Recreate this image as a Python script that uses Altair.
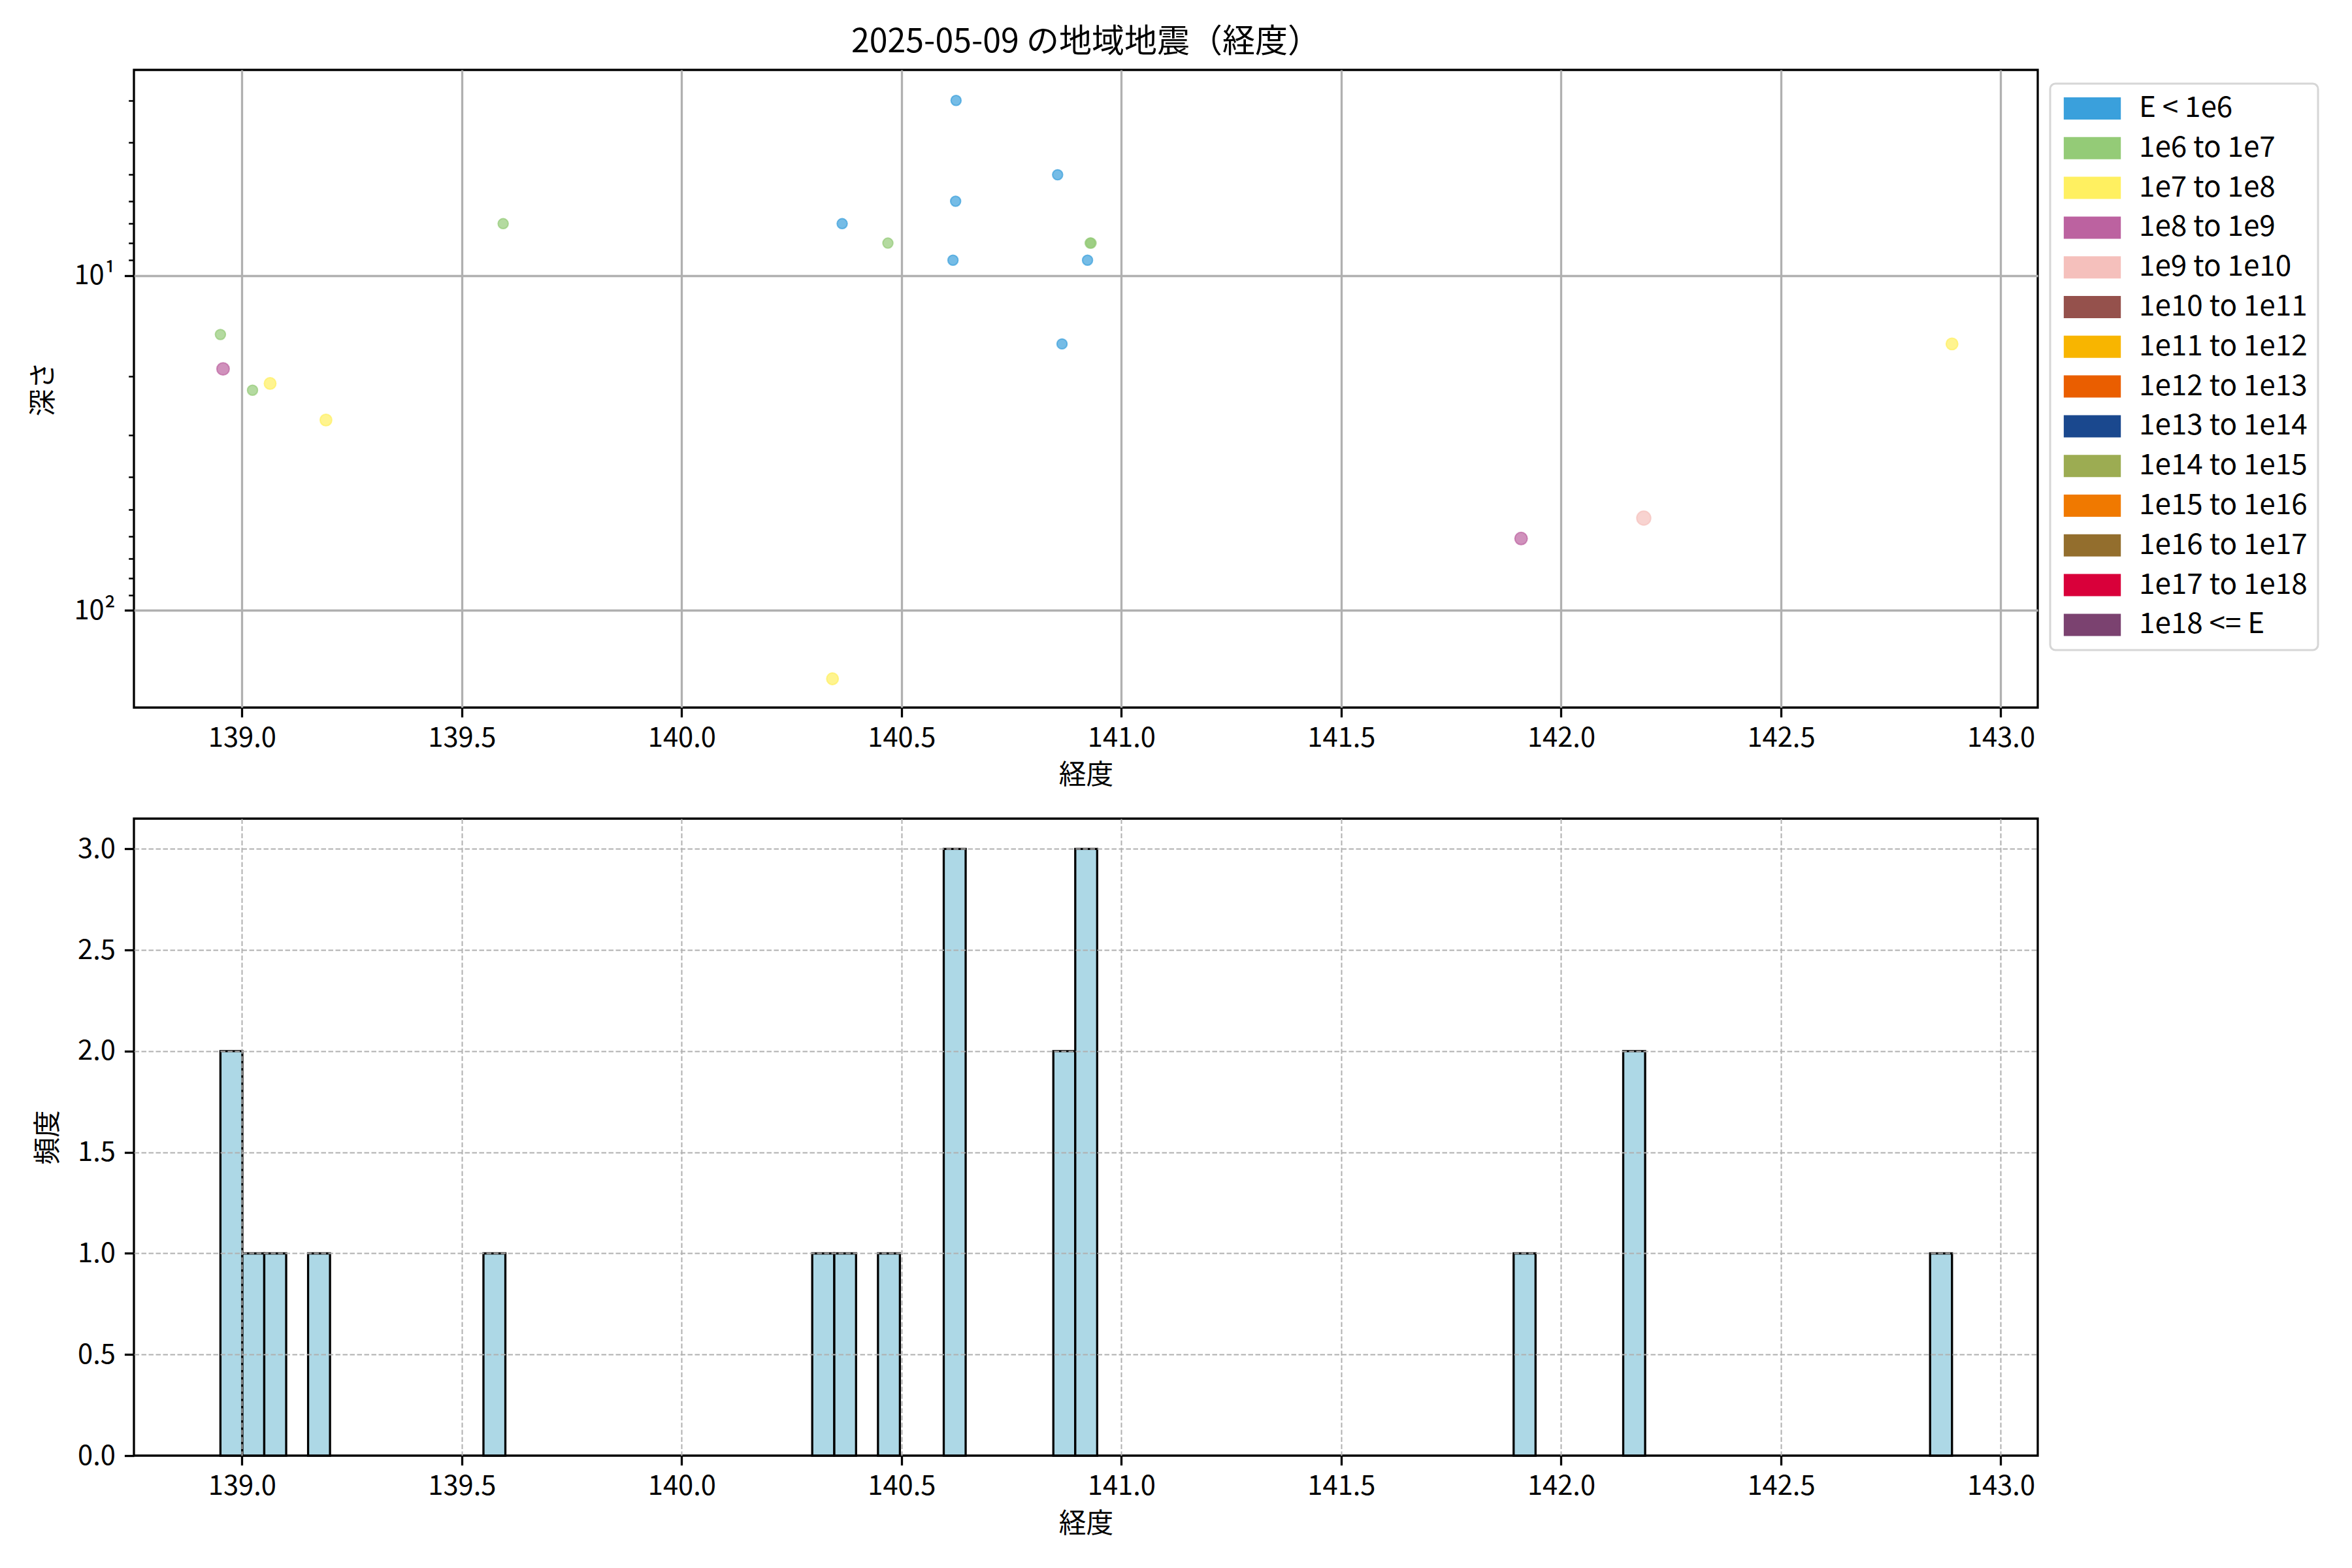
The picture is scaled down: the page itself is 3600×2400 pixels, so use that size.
import altair as alt
import pandas as pd

# ---------------- data ----------------
classes = ["E < 1e6", "1e6 to 1e7", "1e7 to 1e8", "1e8 to 1e9", "1e9 to 1e10",
           "1e10 to 1e11", "1e11 to 1e12", "1e12 to 1e13", "1e13 to 1e14",
           "1e14 to 1e15", "1e15 to 1e16", "1e16 to 1e17", "1e17 to 1e18", "1e18 <= E"]

lon = [140.624, 140.855, 140.623, 140.365, 140.617, 140.923, 140.865, 142.170,
       140.469, 140.929, 140.931, 139.594, 138.951, 139.024,
       139.064, 139.191, 140.343, 142.889,
       138.957, 141.909,
       142.188]
depth = [3, 5, 6, 7, 9, 9, 16, 0,
         8, 8, 8, 7, 15, 22,
         21, 27, 160, 16,
         19, 61,
         53]
energy_class = ["E < 1e6"] * 8 + ["1e6 to 1e7"] * 6 + ["1e7 to 1e8"] * 4 + ["1e8 to 1e9"] * 2 + ["1e9 to 1e10"]

x_ticks = [139.0, 139.5, 140.0, 140.5, 141.0, 141.5, 142.0, 142.5, 143.0]
depth_ticks = [3, 4, 5, 6, 7, 8, 9, 10, 20, 30, 40, 50, 60, 70, 80, 90, 100]
count_ticks = [0.0, 0.5, 1.0, 1.5, 2.0, 2.5, 3.0]

# ---------------- styles ----------------
class_colors = ["#3aa0dc", "#94cb77", "#fff060", "#bc62a0", "#f5c0bc", "#95514c", "#f8b500",
                "#ea5e00", "#1a488e", "#9cac52", "#f07900", "#936e2d", "#d9003a", "#7b4270"]
class_sizes = [240, 240, 320, 360, 460, 500, 540, 580, 620, 660, 700, 740, 780, 820]
N_BINS = 79
X_DOMAIN = [138.7543, 143.0840]
Y_DOMAIN = [2.432, 195]
FS = 41.7
GRID = "#b0b0b0"

df = pd.DataFrame({"lon": lon, "depth": depth, "cls": energy_class})

major = "datum.value == 10 || datum.value == 100"

scatter = alt.Chart(df).transform_filter("datum.depth > 0").mark_circle(
    opacity=1, fillOpacity=0.7, strokeOpacity=0.7, strokeWidth=2
).encode(
    x=alt.X("lon:Q", scale=alt.Scale(domain=X_DOMAIN, nice=False, zero=False),
            axis=alt.Axis(values=x_ticks, format=".1f", title="経度", grid=True,
                          gridColor=GRID, gridWidth=3.3, titleY=103, titleBaseline="middle",
                          labelPadding=12)),
    y=alt.Y("depth:Q", scale=alt.Scale(type="log", domain=Y_DOMAIN, nice=False, reverse=True),
            axis=alt.Axis(values=depth_ticks, title="深さ",
                          labelExpr="datum.value == 10 ? '10¹' : (datum.value == 100 ? '10²' : '')",
                          labelOverlap=False,
                          tickSize={"condition": {"test": major, "value": 14.6}, "value": 8.3},
                          tickWidth={"condition": {"test": major, "value": 3.3}, "value": 2.5},
                          gridOpacity={"condition": {"test": major, "value": 1}, "value": 0},
                          gridColor=GRID, gridWidth=3.3, grid=True,
                          titleX=-139, titleBaseline="middle", titleAlign="center",
                          labelPadding=14)),
    color=alt.Color("cls:N", scale=alt.Scale(domain=classes, range=class_colors),
                    legend=alt.Legend(title=None, orient="none", legendX=2933, legendY=21,
                                      symbolType="M-2.57,-1H2.57V1H-2.57Z", symbolSize=1156,
                                      symbolStrokeWidth=0, symbolOpacity=1,
                                      symbolOffset=26.5, labelOffset=49.5,
                                      labelFontSize=44, labelLimit=2000, rowPadding=16.8,
                                      padding=16, strokeColor="#d6d6d6", fillColor="white",
                                      cornerRadius=8, values=classes)),
    stroke=alt.Stroke("cls:N", scale=alt.Scale(domain=classes, range=class_colors), legend=None),
    size=alt.Size("cls:N", scale=alt.Scale(type="ordinal", domain=classes, range=class_sizes), legend=None),
).properties(
    width=2914, height=976,
    title=alt.TitleParams("2025-05-09 の地域地震（経度）", fontSize=50, fontWeight="normal",
                          anchor="middle", offset=-23, baseline="alphabetic", color="black"),
)

hist = alt.Chart(df).transform_joinaggregate(
    lon_min="min(lon)", lon_max="max(lon)"
).transform_calculate(
    bw=f"(datum.lon_max - datum.lon_min) / {N_BINS}"
).transform_calculate(
    bin_idx=f"min(floor((datum.lon - datum.lon_min) / datum.bw + 1e-9), {N_BINS - 1})"
).transform_calculate(
    b0="datum.lon_min + datum.bin_idx * datum.bw",
    b1="datum.lon_min + (datum.bin_idx + 1) * datum.bw",
).transform_aggregate(
    count="count()", groupby=["b0", "b1"]
).mark_bar(fill="#add8e6", stroke="black", strokeWidth=3.3).encode(
    x=alt.X("b0:Q", scale=alt.Scale(domain=X_DOMAIN, nice=False, zero=False),
            axis=alt.Axis(values=x_ticks, format=".1f", title="経度", grid=True,
                          gridColor=GRID, gridWidth=2, gridDash=[7.5, 3.5], zindex=1,
                          titleY=104, titleBaseline="middle", labelPadding=12)),
    x2="b1:Q",
    y=alt.Y("count:Q", scale=alt.Scale(domain=[0, 3.15], nice=False),
            axis=alt.Axis(values=count_ticks, format=".1f", title="頻度", grid=True,
                          gridColor=GRID, gridWidth=2, gridDash=[7.5, 3.5], zindex=1,
                          gridOpacity={"condition": {"test": "datum.value == 0", "value": 0}, "value": 1},
                          titleX=-132, titleBaseline="middle", titleAlign="center",
                          labelPadding=14)),
    y2=alt.datum(0),
).properties(width=2914, height=975)

chart = alt.vconcat(scatter, hist, spacing=170).properties(
    bounds="flush",
    padding={"left": 36, "top": 30, "right": 20, "bottom": 20},
).resolve_legend(color="independent").resolve_scale(color="independent").configure(
    font="Noto Sans CJK JP",
).configure_view(
    stroke="black", strokeWidth=3.3,
).configure_axis(
    domain=False, tickColor="black", tickWidth=3.3, tickSize=14.6,
    labelFontSize=FS, titleFontSize=FS, titleFontWeight="normal",
    labelColor="black", titleColor="black", labelFont="Noto Sans CJK JP",
    titleFont="Noto Sans CJK JP",
).configure_legend(
    strokeWidth=3, labelColor="black", labelFont="Noto Sans CJK JP",
)

chart.save("out.html", embed_options={"renderer": "svg", "actions": False})
